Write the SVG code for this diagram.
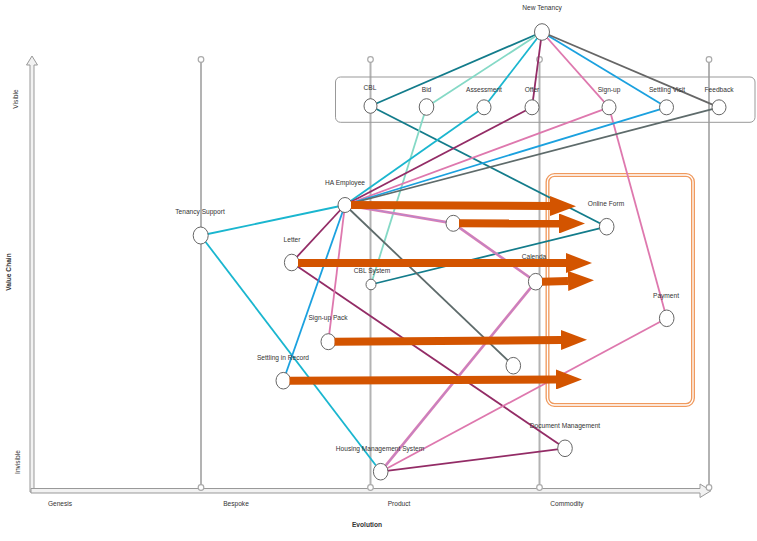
<svg xmlns="http://www.w3.org/2000/svg" width="757" height="541" viewBox="0 0 757 541">
<style>
text{font-family:"Liberation Sans",Arial,sans-serif;font-size:6.6px;fill:#333;text-anchor:middle;dominant-baseline:central}
.b{font-weight:bold}
.vl{stroke:#b3b3b3;stroke-width:2;fill:none}
.vc{fill:#fff;stroke:#aaa;stroke-width:1.2}
.ax{fill:#f2f2f2;stroke:#999;stroke-width:1}
.n{fill:#fff;stroke:#666;stroke-width:1}
.c{fill:none;stroke-width:1.8}
.teal{stroke:#137c8b}.mint{stroke:#85d9c6}.cyan{stroke:#1ab6cf}.plum{stroke:#932c66}
.pink{stroke:#de78ae}.blue{stroke:#1ba1df}.gry{stroke:#5e6b6b}
.dbl{stroke:#de7db2;stroke-width:2.7}
.dblc{stroke:#a88ad6;stroke-width:0.8;fill:none}
.arr{stroke:#d35400;stroke-width:8;fill:none;marker-end:url(#ah)}
</style>
<defs>
<marker id="ah" viewBox="0 0 26 20" refX="0" refY="10" markerWidth="26" markerHeight="20" markerUnits="userSpaceOnUse" orient="auto">
<path d="M0,0 L26,10 L0,20 z" fill="#d35400"/>
</marker>
</defs>
<g id="axes">
<polygon class="ax" points="30,492 30,65 26.5,65 32,56 37.5,65 34,65 34,492"/>
<polygon class="ax" points="31,488.5 700,488.5 700,484 711,490.75 700,497.5 700,493 31,493"/>
<line class="vl" x1="201" y1="62" x2="201" y2="485"/>
<line class="vl" x1="370.5" y1="62" x2="370.5" y2="485"/>
<line class="vl" x1="539.5" y1="62" x2="539.5" y2="485"/>
<line class="vl" x1="709" y1="62" x2="709" y2="485"/>
<circle class="vc" cx="201" cy="59.5" r="2.8"/><circle class="vc" cx="370.5" cy="59.5" r="2.8"/><circle class="vc" cx="539.5" cy="59.5" r="2.8"/><circle class="vc" cx="709" cy="59.5" r="2.8"/>
<circle class="vc" cx="201" cy="487.5" r="2.8"/><circle class="vc" cx="370.5" cy="487.5" r="2.8"/><circle class="vc" cx="539.5" cy="487.5" r="2.8"/><circle class="vc" cx="709" cy="487.5" r="2.8"/>
<text x="60" y="503">Genesis</text>
<text x="236" y="503">Bespoke</text>
<text x="399" y="503">Product</text>
<text x="567" y="503">Commodity</text>
<text class="b" x="367" y="524">Evolution</text>
<text class="b" transform="translate(8,272) rotate(-90)">Value Chain</text>
<text transform="translate(15,99) rotate(-90)">Visible</text>
<text transform="translate(17,462) rotate(-90)">Invisible</text>
</g>
<g id="visible-group">
<rect x="335.5" y="77" width="419.5" height="45.3" rx="5" fill="none" stroke="#999" stroke-width="1"/>
</g>
<g id="highlight-box">
<rect x="547.5" y="175" width="145.5" height="230" rx="7" fill="none" stroke="#f09a5e" stroke-width="4"/>
<rect x="547.5" y="175" width="145.5" height="230" rx="7" fill="none" stroke="#fff" stroke-width="1.3"/>
</g>
<g id="connectors">
<line class="c teal" x1="542" y1="32" x2="370.5" y2="106"/>
<line class="c teal" x1="370.5" y1="106" x2="606.7" y2="226.7"/>
<line class="c teal" x1="606.7" y1="226.7" x2="371" y2="284.5"/>
<line class="c mint" x1="542" y1="32" x2="426.5" y2="107"/>
<line class="c mint" x1="426.5" y1="107" x2="371" y2="284.5"/>
<line class="c cyan" x1="542" y1="32" x2="484" y2="107.3"/>
<line class="c cyan" x1="484" y1="107.3" x2="345" y2="205"/>
<line class="c cyan" x1="345" y1="205" x2="200.7" y2="235.5"/>
<line class="c cyan" x1="200.7" y1="235.5" x2="380.7" y2="471.7"/>
<line class="c plum" x1="542" y1="32" x2="532" y2="107.3" stroke-width="2.2"/>
<line class="c plum" x1="532" y1="107.3" x2="345" y2="205"/>
<line class="c plum" x1="345" y1="205" x2="291.7" y2="262.5"/>
<line class="c plum" x1="291.7" y1="262.5" x2="565" y2="448.3"/>
<line class="c plum" x1="380.7" y1="471.7" x2="565" y2="448.3"/>
<line class="c pink" x1="542" y1="32" x2="609" y2="107.3"/>
<line class="c pink" x1="609" y1="107.3" x2="345" y2="205"/>
<line class="c pink" x1="609" y1="107.3" x2="666.7" y2="318.3"/>
<line class="c pink" x1="345" y1="205" x2="328.3" y2="341.7"/>
<line class="c pink" x1="380.7" y1="471.7" x2="666.7" y2="318.3"/>
<line class="c blue" x1="542" y1="32" x2="666.5" y2="107.3"/>
<line class="c blue" x1="666.5" y1="107.3" x2="345" y2="205"/>
<line class="c blue" x1="345" y1="205" x2="283.3" y2="380.7"/>
<line class="c" stroke="#666" stroke-width="1" x1="542" y1="32" x2="719" y2="107.3"/>
<line class="c gry" x1="719" y1="107.3" x2="345" y2="205"/>
<line class="c gry" x1="345" y1="205" x2="513.3" y2="365.7"/>
<polyline class="c dbl" points="345,205 453.3,223.3 535.7,281.7 380.7,471.7"/>
<polyline class="dblc" points="345,205 453.3,223.3 535.7,281.7 380.7,471.7"/>
</g>
<g id="node-new-tenancy"><ellipse class="n" cx="542" cy="32" rx="7.5" ry="8.3"/><text x="542" y="7.5">New Tenancy</text></g>
<g id="node-cbl"><ellipse class="n" cx="370.5" cy="106" rx="6.5" ry="7.3"/><text x="370" y="87.5">CBL</text></g>
<g id="node-bid"><ellipse class="n" cx="426.5" cy="107" rx="7.3" ry="8.3"/><text x="426.5" y="89">Bid</text></g>
<g id="node-assessment"><ellipse class="n" cx="484" cy="107.3" rx="7" ry="7.5"/><text x="484" y="89">Assessment</text></g>
<g id="node-offer"><ellipse class="n" cx="532" cy="107.3" rx="7" ry="7.5"/><text x="532" y="89">Offer</text></g>
<g id="node-signup"><ellipse class="n" cx="609" cy="107.3" rx="7" ry="7.5"/><text x="609" y="89">Sign-up</text></g>
<g id="node-settling-visit"><ellipse class="n" cx="666.5" cy="107.3" rx="7" ry="7.5"/><text x="667" y="89">Settling Visit</text></g>
<g id="node-feedback"><ellipse class="n" cx="719" cy="107.3" rx="7" ry="7.5"/><text x="719" y="89">Feedback</text></g>
<g id="node-ha-employee"><ellipse class="n" cx="345" cy="205" rx="7" ry="7.5"/><text x="345" y="182">HA Employee</text></g>
<g id="node-tenancy-support"><ellipse class="n" cx="200.7" cy="235.5" rx="7.5" ry="8.5"/><text x="200" y="211.5">Tenancy Support</text></g>
<g id="node-letter"><ellipse class="n" cx="291.7" cy="262.5" rx="7.3" ry="8.3"/><text x="292" y="239">Letter</text></g>
<g id="node-cbl-system"><ellipse class="n" cx="371" cy="284.5" rx="5" ry="5.3"/><text x="372" y="270">CBL System</text></g>
<g id="node-u1"><ellipse class="n" cx="453.3" cy="223.3" rx="7.3" ry="8"/></g>
<g id="node-online-form"><ellipse class="n" cx="606.7" cy="226.7" rx="7.3" ry="8.3"/><text x="606" y="203">Online Form</text></g>
<g id="node-calendar"><ellipse class="n" cx="535.7" cy="281.7" rx="7.3" ry="8.3"/><text x="534" y="256.5">Calenda</text></g>
<g id="node-payment"><ellipse class="n" cx="666.7" cy="318.3" rx="7.3" ry="8.3"/><text x="666" y="295">Payment</text></g>
<g id="node-u2"><ellipse class="n" cx="513.3" cy="365.7" rx="7.3" ry="8.3"/></g>
<g id="node-signup-pack"><ellipse class="n" cx="328.3" cy="341.7" rx="7.3" ry="8"/><text x="328" y="317.5">Sign-up Pack</text></g>
<g id="node-settling-record"><ellipse class="n" cx="283.3" cy="380.7" rx="7.3" ry="8.3"/><text x="283" y="357">Settling in Record</text></g>
<g id="node-hms"><ellipse class="n" cx="380.7" cy="471.7" rx="7.3" ry="8.3"/><text x="380" y="448.5">Housing Management System</text></g>
<g id="node-document-management"><ellipse class="n" cx="565" cy="448.3" rx="7.3" ry="8.3"/><text x="565" y="425">Document Management</text></g>
<g id="moves">
<line class="arr" x1="351" y1="205" x2="550" y2="206"/>
<line class="arr" x1="459" y1="223.3" x2="559" y2="223.5"/>
<line class="arr" x1="298" y1="263" x2="566" y2="263"/>
<line class="arr" x1="542" y1="281.7" x2="568" y2="281"/>
<line class="arr" x1="334.5" y1="341.7" x2="561" y2="340"/>
<line class="arr" x1="289.5" y1="380.7" x2="556" y2="379.5"/>
</g>
</svg>
